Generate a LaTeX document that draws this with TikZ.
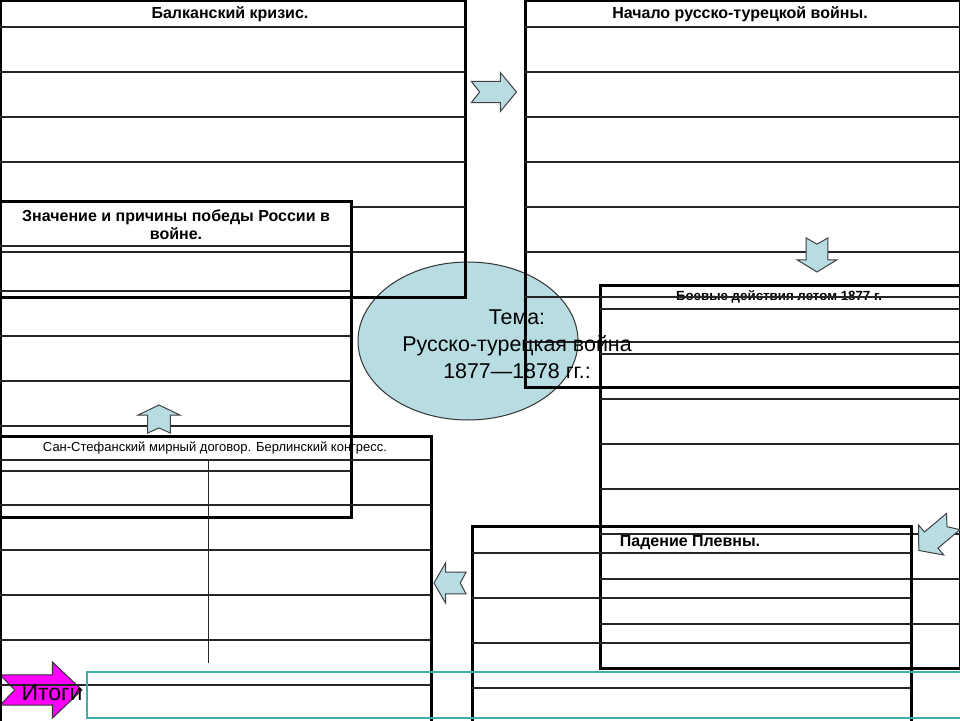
\documentclass[tikz,border=0pt]{standalone}
\usepackage{fontspec}
\setmainfont{Liberation Sans}
\definecolor{arrowblue}{RGB}{183,221,227}
\definecolor{arrowpink}{RGB}{255,0,255}
\definecolor{tealline}{RGB}{64,172,172}
\begin{document}
\begin{tikzpicture}[x=1pt,y=-1pt]

\tikzset{frame/.style={black,line width=3},
rowline/.style={black!85!white,line width=1.5},
head/.style={font=\bfseries\fontsize{16}{18}\selectfont,inner sep=0pt},
bluearrow/.style={fill=arrowblue,draw=black!75!white,line width=1},
%unit arrow with a notched tail, scaled and turned where it is used
notcharrow/.pic={\path [pic actions] (-0.5,-0.27) -- (0.14,-0.27) -- (0.14,-0.5) -- (0.5,0) -- (0.14,0.5) -- (0.14,0.27) -- (-0.5,0.27) -- (-0.32,0) -- cycle;}}

\useasboundingbox (0,0) rectangle (960,720);

\begin{scope}

\clip (0,0) rectangle (960,720);

\fill [white] (0,0) rectangle (960,720);

\draw [fill=arrowblue,draw=black!80!white,line width=1] (468,341) ellipse [x radius=110, y radius=79];

\pic [fill=arrowpink,draw=black!80!white,line width=1,xscale=82,yscale=56] at (41,690) {notcharrow};

% Балканский кризис
\draw [frame] (0,0) rectangle (465,297);
\draw [rowline] (0,27) -- (465,27) (0,72) -- (465,72) (0,117) -- (465,117) (0,162) -- (465,162) (0,207) -- (465,207) (0,252) -- (465,252);

% Начало войны
\draw [frame] (525,0) rectangle (960,387);
\draw [rowline] (525,27) -- (960,27) (525,72) -- (960,72) (525,117) -- (960,117) (525,162) -- (960,162) (525,207) -- (960,207) (525,252) -- (960,252) (525,297) -- (960,297) (525,342) -- (960,342);

% Боевые действия
\draw [frame] (600,285) rectangle (960,668);
\draw [rowline] (600,309) -- (960,309) (600,354) -- (960,354) (600,399) -- (960,399) (600,444) -- (960,444) (600,489) -- (960,489) (600,534) -- (960,534) (600,579) -- (960,579) (600,624) -- (960,624);

% Значение и причины
\fill [white] (0,201) rectangle (351,246);
\draw [frame] (0,201) rectangle (351,517);
\draw [rowline] (0,246) -- (351,246) (0,291) -- (351,291) (0,336) -- (351,336) (0,381) -- (351,381) (0,426) -- (351,426) (0,471) -- (351,471);

% Сан-Стефанский договор
\draw [frame] (0,436) rectangle (431,740);
\draw [rowline] (0,460) -- (431,460) (0,505) -- (431,505) (0,550) -- (431,550) (0,595) -- (431,595) (0,640) -- (431,640) (0,685) -- (431,685);
\draw [black!85!white,line width=1] (208,460) -- (208,663);

% Падение Плевны
\draw [frame] (472,526) rectangle (911,740);
\draw [rowline] (472,553) -- (911,553) (472,598) -- (911,598) (472,643) -- (911,643) (472,688) -- (911,688);

\draw [tealline,line width=1.5] (87,672) rectangle (975,718);

\pic [bluearrow,xscale=45,yscale=39] at (494,92) {notcharrow};
\pic [bluearrow,rotate=-90,xscale=34,yscale=40] at (817,255) {notcharrow};
\pic [bluearrow,rotate=90,xscale=28,yscale=42] at (159,419) {notcharrow};
\pic [bluearrow,rotate=180,xscale=32,yscale=40] at (450,583) {notcharrow};
\pic [bluearrow,rotate=220,xscale=45,yscale=39] at (936,536) {notcharrow};

\node [head] (balkan) at (230,14) {Балканский кризис.};
\node [head] (nachalo) at (740,14) {Начало русско-турецкой войны.};
\node [head,font=\bfseries\fontsize{13.3}{15}\selectfont] (boevye) at (779,297) {Боевые действия летом 1877 г.};
\node [head,align=center] (znachenie) at (176,225) {Значение и причины победы России в\\войне.};
\node [inner sep=0pt,font=\fontsize{13}{15}\selectfont] (sanstefano) at (215,448) {Сан-Стефанский мирный договор. Берлинский конгресс.};
\node [head] (plevna) at (690,543) {Падение Плевны.};
\node [inner sep=0pt,align=center,font=\fontsize{21.4}{27}\selectfont] (tema) at (517,344) {Тема:\\Русско-турецкая война\\1877—1878 гг.:};
\node [inner sep=0pt,font=\fontsize{23}{25}\selectfont] (itogi) at (52,693) {Итоги};

% вычеркнутая строка шапки
\draw [rowline] (600,297) -- (960,297);

\end{scope}

\end{tikzpicture}
\end{document}
